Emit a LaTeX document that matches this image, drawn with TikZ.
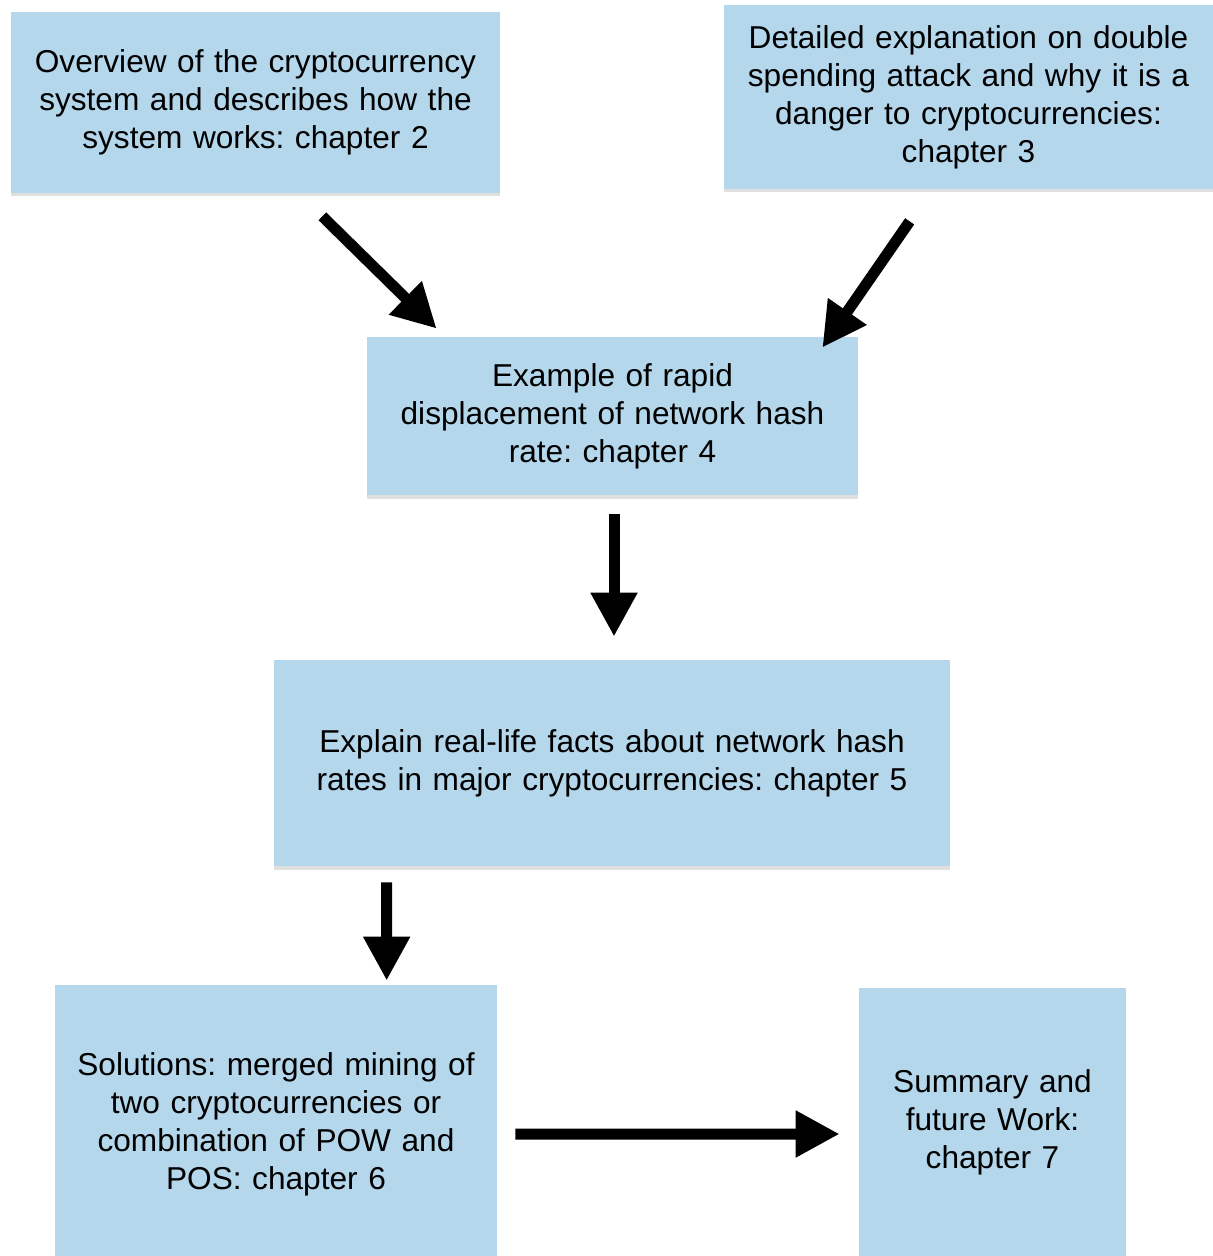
\documentclass[tikz,border=0pt]{standalone}
\usepackage{fontspec}
\setmainfont{Liberation Sans}
\usepackage{tikz}
\usetikzlibrary{arrows.meta,positioning,shadows,calc}
\frenchspacing

\definecolor{boxblue}{RGB}{180,215,236}

\tikzset{
  chapbox/.style={rectangle, fill=boxblue, inner sep=0pt, align=center,
    font=\fontsize{18}{21.6}\selectfont,
    drop shadow={shadow xshift=0pt, shadow yshift=-0.07cm, opacity=0.25}},
  bigarrow/.style={line width=0.22cm, -{Triangle[length=0.88cm,width=0.88cm]}}
}

\begin{document}
\begin{tikzpicture}
  \useasboundingbox (0,0) rectangle (24.26,-25.12);
  \clip (0,0) rectangle (24.26,-25.12);

  % chapter boxes
  \node[chapbox, minimum width=9.78cm, minimum height=3.62cm, text width=9.6cm] (ch2) at (5.11,-2.05)
    {Overview of the cryptocurrency\\system and describes how the\\system works: chapter 2};
  \node[chapbox, minimum width=9.78cm, minimum height=3.68cm, text width=9.6cm] (ch3) at (19.37,-1.94)
    {Detailed explanation on double\\spending attack and why it is a\\danger to cryptocurrencies:\\chapter 3};
  \node[chapbox, minimum width=9.82cm, minimum height=3.16cm, text width=9.6cm] (ch4) at (12.25,-8.32)
    {Example of rapid\\displacement of network hash\\rate: chapter 4};
  \node[chapbox, minimum width=13.52cm, minimum height=4.12cm, text width=13.2cm] (ch5) at (12.24,-15.26)
    {Explain real-life facts about network hash\\rates in major cryptocurrencies: chapter 5};
  \node[chapbox, minimum width=8.84cm, minimum height=5.56cm, text width=8.6cm] (ch6) at (5.52,-22.48)
    {Solutions: merged mining of\\two cryptocurrencies or\\combination of POW and\\POS: chapter 6};
  \node[chapbox, minimum width=5.34cm, minimum height=5.36cm, text width=5.2cm] (ch7) at (19.85,-22.44)
    {Summary and\\future Work:\\chapter 7};

  % arrows
  \draw[bigarrow] ([xshift=-3.56cm,yshift=-0.46cm]ch2.south east) -- ([xshift=1.40cm,yshift=0.16cm]ch4.north west);
  \draw[bigarrow] ([xshift=3.72cm,yshift=-0.64cm]ch3.south west) -- ([xshift=-0.72cm,yshift=-0.22cm]ch4.north east);
  \draw[bigarrow] ([xshift=0.03cm,yshift=-0.38cm]ch4.south) -- ([xshift=0.04cm,yshift=0.46cm]ch5.north);
  \draw[bigarrow] ([xshift=2.26cm,yshift=-0.32cm]ch5.south west) -- ([xshift=6.64cm,yshift=0.08cm]ch6.north west);
  \draw[bigarrow] ([xshift=0.36cm,yshift=-0.2cm]ch6.east) -- ([xshift=-0.38cm,yshift=-0.24cm]ch7.west);
\end{tikzpicture}
\end{document}
